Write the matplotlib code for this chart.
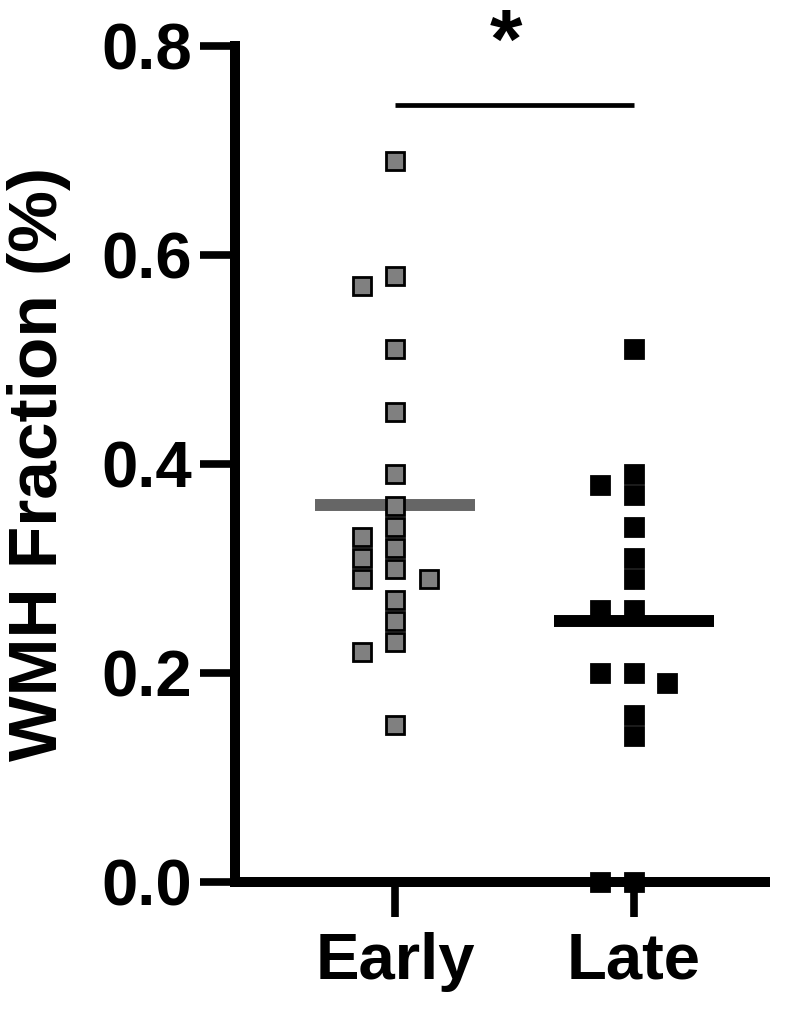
import matplotlib
matplotlib.use("Agg")
import matplotlib.pyplot as plt
import numpy as np

plt.rcParams['font.family'] = ['Liberation Sans', 'DejaVu Sans']
plt.rcParams['font.weight'] = 'bold'

# ---- data ----
groups = ["Early", "Late"]
early_values = [0.69, 0.58, 0.57, 0.51, 0.45, 0.39, 0.36, 0.34, 0.33, 0.32,
                0.31, 0.30, 0.29, 0.29, 0.27, 0.25, 0.23, 0.22, 0.15]
late_values = [0.51, 0.39, 0.38, 0.37, 0.34, 0.31, 0.29, 0.26, 0.26, 0.20,
               0.20, 0.19, 0.16, 0.14, 0.00, 0.00]
y_ticks = [0.0, 0.2, 0.4, 0.6, 0.8]
y_label = "WMH Fraction (%)"
sig_text = "*"
sig_y = 0.744

fill_colors = ["#808080", "#000000"]
mean_colors = ["#666666", "#000000"]

fig = plt.figure(figsize=(7.98, 10.09), dpi=100)
ax = fig.add_axes([0.2945, 0.12587, 0.664, 0.8285])
ax.set_xlim(-0.671, 1.55)
ax.set_ylim(0, 0.8)

# swarm placement (greedy, computed in display units)
def swarm(values, center, step_px=33.5, thr_px=19.5):
    trans = ax.transData
    placed = []
    out = {}
    order = sorted(range(len(values)), key=lambda i: -values[i])
    cx = trans.transform((center, 0))[0]
    for i in order:
        ypx = trans.transform((center, values[i]))[1]
        for k in [0, -1, 1, -2, 2, -3, 3]:
            xpx = cx + k * step_px
            ok = all(not (abs(px - xpx) < step_px / 2 and abs(py - ypx) < thr_px)
                     for px, py in placed)
            if ok:
                placed.append((xpx, ypx))
                out[i] = trans.inverted().transform((xpx, ypx))[0]
                break
    return [out[i] for i in range(len(values))]

all_vals = [early_values, late_values]
for gi, vals in enumerate(all_vals):
    m = np.mean(vals)
    ax.plot([gi - 0.335, gi + 0.335], [m, m], color=mean_colors[gi], lw=8.6,
            solid_capstyle='butt', zorder=2)
    xs = swarm(vals, gi)
    ax.plot(xs, vals, linestyle='none', marker='s', markersize=12.4,
            markerfacecolor=fill_colors[gi], markeredgecolor='black',
            markeredgewidth=2.0, zorder=3, clip_on=False)

# axes style
for s in ['top', 'right']:
    ax.spines[s].set_visible(False)
for s in ['left', 'bottom']:
    ax.spines[s].set_linewidth(7.2)
    ax.spines[s].set_capstyle('projecting')

ax.set_yticks(y_ticks)
ax.set_yticklabels([f"{t:.1f}" for t in y_ticks])
ax.set_xticks(range(len(groups)))
ax.set_xticklabels(groups)
ax.tick_params(axis='both', direction='out', length=25, width=5.5, labelsize=47)
ax.tick_params(axis='y', pad=6)
ax.tick_params(axis='x', pad=11)
for lab in ax.get_xticklabels() + ax.get_yticklabels():
    lab.set_fontweight('bold')

ax.set_ylabel(y_label, fontsize=50, fontweight='bold', labelpad=22)

# significance bracket
ax.plot([0, 1], [sig_y, sig_y], color='black', lw=3.4, clip_on=False, solid_capstyle='butt')
ax.text(0.465, 0.779, sig_text, ha='center', va='baseline', fontsize=60,
        fontweight='bold', clip_on=False)

fig.savefig("out.png", dpi=100)
